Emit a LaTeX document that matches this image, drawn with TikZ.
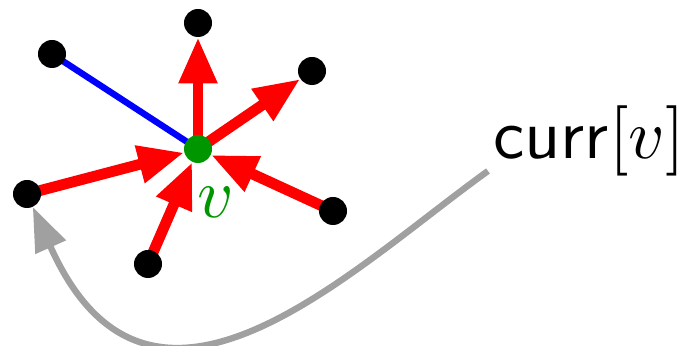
\documentclass[tikz,border=0pt]{standalone}
\usetikzlibrary{arrows.meta}
\definecolor{vgreen}{RGB}{0,150,0}
\definecolor{linkgray}{RGB}{160,160,160}
\pgfdeclarelayer{background}
\pgfsetlayers{background,main}

\begin{document}
\begin{tikzpicture}[x=0.025cm, y=-0.025cm,
  vertex/.style={circle, fill=black, inner sep=0pt, minimum size=0.7cm},
  redarc/.style={red, line width=0.27cm, -{Triangle[length=1.15cm, width=0.9cm]}},
  graylink/.style={linkgray, line width=0.16cm, -{Triangle[length=1.1cm, width=0.8cm]}}]
  \useasboundingbox (0,0) rectangle (691,346);

  % vertices
  \node[vertex, fill=vgreen] (v) at (198,149) {};
  \node[vertex] (top) at (198,23) {};
  \node[vertex] (ul) at (52,54) {};
  \node[vertex] (ur) at (312,71) {};
  \node[vertex] (lft) at (27,194) {};
  \node[vertex] (rgt) at (333,211) {};
  \node[vertex] (bot) at (148,264) {};

  % labels
  \node[vgreen, scale=5, anchor=base] (vlabel) at (216,218) {$v$};
  \node[scale=5, anchor=base] (curr) at (589,159) {\textsf{curr}$[v]$};

  % edges
  \begin{pgfonlayer}{background}
    \draw[blue, line width=0.16cm] (ul.center) -- (v.center);
    \draw[redarc] (v.center) -- (top);
    \draw[redarc] (v.center) -- (ur);
    \draw[redarc] (lft.center) -- (v);
    \draw[redarc] (rgt.center) -- (v);
    \draw[redarc] (bot.center) -- (v);
  \end{pgfonlayer}

  % pointer
  \coordinate (cs) at (488,171);
  \draw[graylink] (cs) .. controls (350,270) and (150,470) .. (lft);
\end{tikzpicture}
\end{document}
